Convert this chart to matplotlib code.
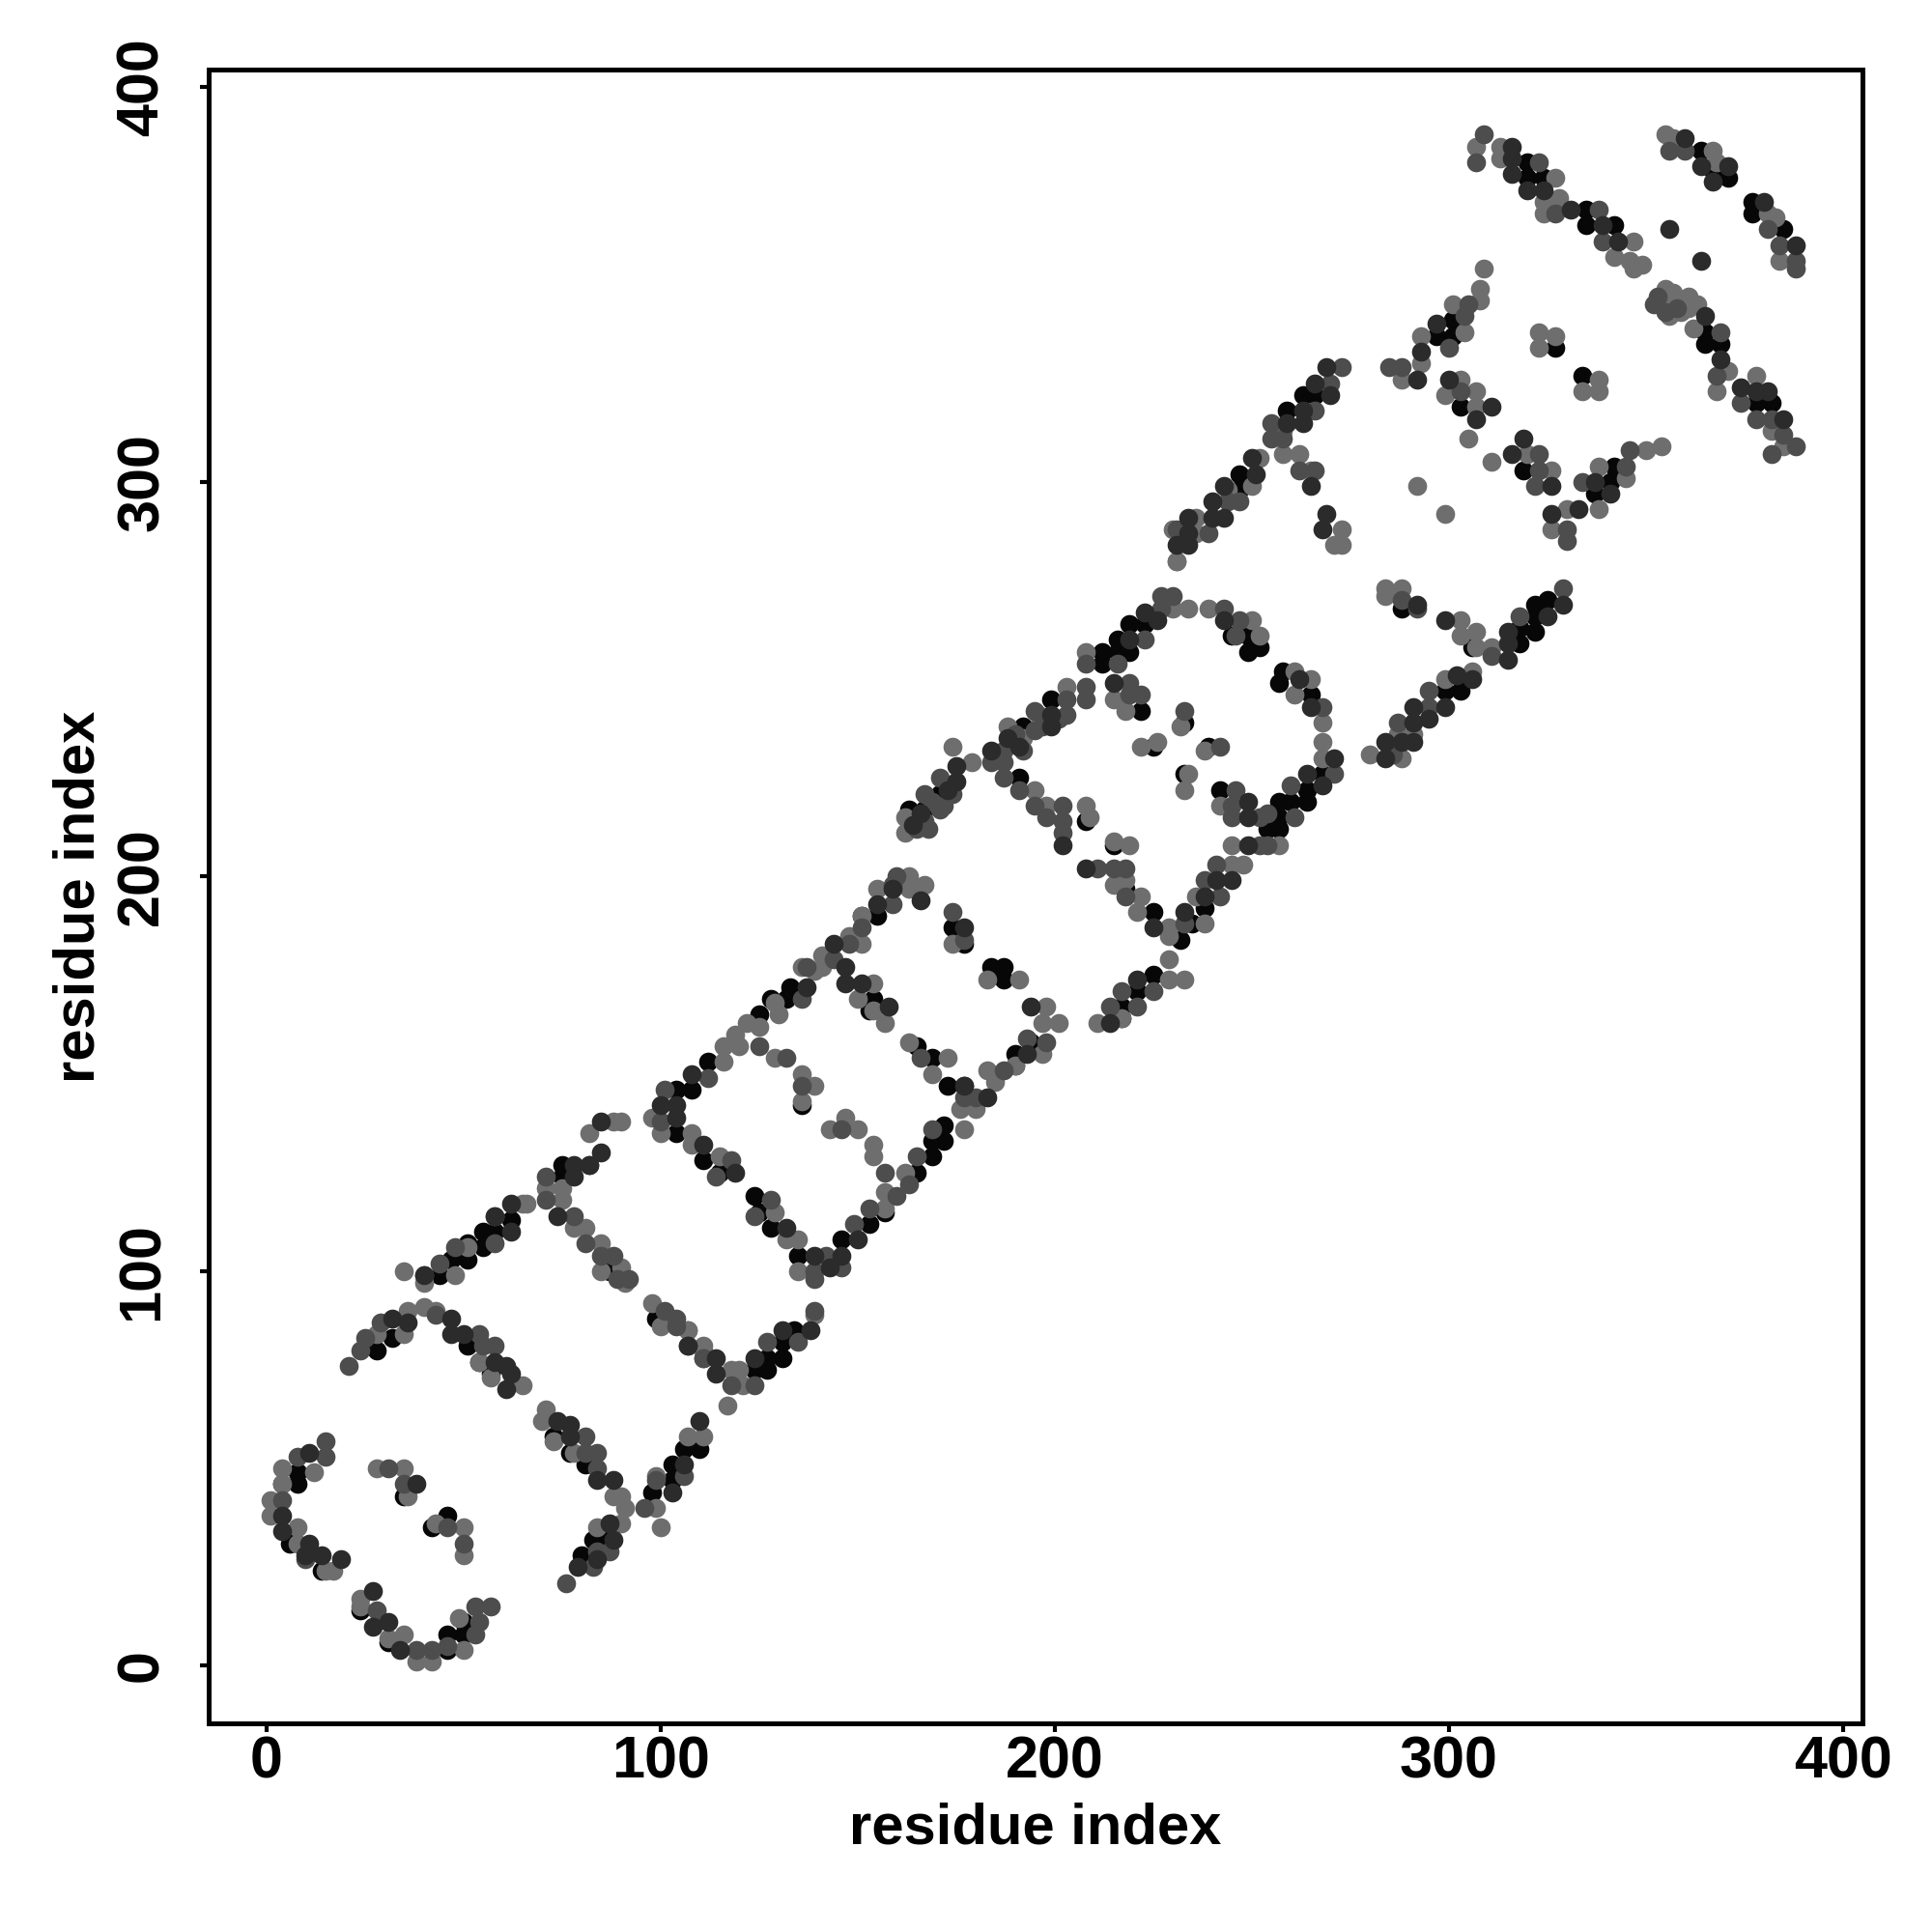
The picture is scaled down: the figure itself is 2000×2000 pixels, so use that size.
import numpy as np
import matplotlib
matplotlib.use('Agg')
import matplotlib.pyplot as plt

plt.rcParams['font.family'] = ['Liberation Sans', 'DejaVu Sans']

########## contacts (residue i, residue j), by grey level ##########
light_contacts = [(1,42),(1,38),(4,50),(4,46),(8,35),(8,31),(12,49),(15,24),(17,24),
    (24,17),(24,15),(31,7),(35,8),(38,1),(42,1),(50,4),(49,12),
    (28,50),(35,50),(36,43),(43,36),(50,35),(50,28),
    (28,84),(35,84),(36,90),(40,91),(43,90),(57,73),(65,71),(54,77),
    (35,100),(40,97),(40,99),(48,99),(51,106),(58,114),(65,117),(66,117),
    (71,121),(75,118),(75,121),(78,111),(81,111),(85,107),(85,100),(90,101),(91,97),
    (98,92),(100,86),(107,85),(111,80),
    (71,65),(70,62),(73,57),(78,54),(88,43),(90,43),(91,40),(90,36),(84,35),(99,40),(100,35),(99,48),(107,58),(111,58),(82,135),
    (117,66),(121,71),(118,75),(111,81),(107,85),(120,75),(139,89),(90,138),(88,138),(98,139),(100,135),(108,135),(108,132),(115,129),
    (116,153),(116,157),(120,157),(119,160),(122,163),(125,162),(129,168),(130,165),(136,177),(139,176),(141,177),(141,180),(148,185),(151,183),(151,190),(155,197),
    (163,200),(163,197),(167,198),
    (154,173),(150,169),(154,166),(157,163),(174,183),(183,174),(191,174),(198,167),(197,163),(201,163),(197,155),(190,152),(183,151),(185,148),(180,141),(176,141),(177,136),(162,125),(157,120),(157,116),(135,100),(135,108),(132,108),(129,115),(129,154),(136,150),(139,147),(136,143),(147,139),(143,136),(150,136),(154,132),(154,129),(163,158),(173,154),(169,150),
    (162,211),(162,215),(174,233),(179,229),(188,238),(196,241),(203,248),(208,257),(215,245),(218,242),(230,268),(234,268),(231,280),(239,268),(250,265),(252,261),(261,252),(265,250),(261,246),(268,239),(268,234),(268,230),(242,218),(245,208),(257,208),(245,203),(248,203),(236,195),(238,188),(229,187),(229,185),(221,191),(222,195),(218,199),(215,198),(215,209),(219,208),(208,218),(209,215),(198,218),(195,222),(232,238),(222,233),(226,234),(238,232),(234,226),(233,222),(229,179),(233,174),(229,174),(217,164),(211,163),
    (192,235),(197,240),
    (307,385),(313,385),(313,382),(327,377),(328,372),(324,371),(324,368),(347,361),(342,357),(346,356),(349,355),(347,354),(355,388),(357,387),(367,384),(368,381),(381,368),(383,367),(384,356),(355,349),(357,348),(361,347),(356,342),(361,344),(362,339),(371,328),(368,323),(378,327),(382,313),(385,309),(323,338),(327,337),(323,334),(338,326),(334,323),(338,323),(292,299),(299,292),(309,354),(308,349),(308,346),(301,345),(304,338),(293,337),(293,330),(288,326),(299,322),(303,326),(307,323),(307,319),(305,311),(320,307),(311,305),(326,303),(330,293),(338,293),(326,288),(338,304),(345,301),(350,308),(354,309),(273,288),(273,284),(265,303),
    (354,345),(359,343),(363,345),(358,346),
    (284,273),(288,273),(284,271),(303,265),(303,261),(307,262),(307,258),(311,258),
    (306,252),(299,250),(291,236),(287,236),(288,230),(280,231),
    (252,306),(258,313),(258,307),(262,307),(244,298),(250,299),(236,291),(236,287),(230,288),(231,280),(271,284)]

mid_contacts = [(15,57),(15,53),(8,53),(4,42),(10,27),
    (28,14),(38,4),(42,4),(46,5),(53,8),(54,11),(53,15),(57,15),(35,46),(31,50),(46,35),(50,31),
    (21,76),(25,83),(24,80),(29,87),(43,89),(54,84),(55,81),(58,81),(44,102),(48,106),(58,107),(71,124),(71,118),(82,127),
    (78,114),(81,107),(85,104),(88,104),(89,98),(92,98),(101,90),(104,88),(104,86),(107,81),(111,78),
    (81,58),(81,54),(84,54),(84,50),(84,29),(87,29),(83,25),(76,21),(96,40),(99,47),(106,48),
    (118,71),(124,71),(111,78),(127,82),(135,82),(139,90),(101,146),(100,138),(118,128),(114,124),(112,149),(125,157),(136,169),(137,177),(144,179),(148,183),(151,187),(159,193),(160,200),(159,198),
    (174,191),(177,184),(193,159),(198,158),(187,151),(180,144),(177,144),(169,136),(165,129),(163,122),(160,119),(153,116),(149,112),(142,104),(146,101),(139,100),(139,98),(128,118),(124,114),(132,154),(136,147),(146,136),(157,125),(166,154),
    (167,214),(171,217),(167,221),(174,221),(171,225),(184,229),(187,229),(187,232),(195,242),(195,237),(203,245),(203,241),(208,254),(208,248),(208,245),(216,254),(223,260),(227,271),(227,268),(230,271),(219,249),(219,246),(222,246),(243,268),(247,265),(246,261),(268,243),(271,226),(260,223),(261,215),(254,216),(252,215),(246,222),(245,218),(245,215),(252,208),(254,208),(241,203),(238,199),(242,195),(233,188),(218,195),(218,202),(215,202),(211,202),(202,218),(191,222),(187,225),(195,218),(202,214),(202,211),(198,215),(233,242),(242,233),(225,171),(217,171),(221,167),(214,167),
    (165,212),(168,212),(172,218),(169,219),(190,236),(197,238),(201,240),(192,232),
    (309,388),(307,381),(323,381),(327,368),(338,369),(339,361),(356,384),(360,384),(381,364),(384,360),(388,356),(388,354),(353,347),(369,338),(368,327),(374,320),(378,316),(382,316),(385,312),(382,307),(388,309),(305,345),(304,342),(300,334),(285,329),(288,329),(303,323),(323,307),(323,303),(322,299),(330,288),(330,285),(334,300),(345,304),(346,308),(273,329),
    (352,345),(355,343),(358,344),
    (288,270),(292,268),(311,256),(318,266),(329,273),
    (295,247),(295,243),(287,239),(286,231),
    (270,325),(266,318),(255,315),(255,311),(258,311),(262,303),(266,303),(247,295),(244,295),(239,287),(231,288)]

dark_contacts = [(11,54),(4,38),(4,34),(11,31),(10,28),(14,28),(19,27),
    (27,19),(27,10),(31,11),(34,4),(38,46),
    (32,88),(36,87),(47,88),(47,84),(50,84),(58,77),(61,76),(62,74),(61,70),
    (40,99),(62,110),(62,117),(58,114),(74,114),(78,124),(78,127),
    (74,62),(77,61),(77,58),(84,47),(88,47),(87,36),(88,32),(79,25),(84,27),(103,44),(106,51),(110,62),(85,130),(85,138),(82,127),
    (114,74),(114,78),(107,81),(124,78),(131,85),(138,85),(100,142),(104,142),(104,139),(111,132),(119,125),(108,150),(137,172),(144,183),(155,193),(159,197),(166,194),(147,177),(147,173),(151,173),(158,167),(177,187),(194,167),(193,155),(183,144),(177,147),(150,108),(146,104),(143,101),(139,104),(132,111),
    (164,213),(175,224),(175,228),(184,232),(188,235),(191,233),(199,238),(199,241),(215,249),(219,260),(223,267),(226,265),(243,265),(262,250),(265,243),(271,230),(264,226),(268,223),(249,219),(249,215),(249,208),(245,199),(241,199),(238,195),(233,191),(225,187),(208,202),(202,208),(221,174),(214,163),
    (166,216),(173,222),
    (316,385),(316,382),(316,378),(320,374),(324,374),(331,369),(339,365),(343,361),(360,387),(364,380),(371,380),(367,376),(380,371),(388,360),(356,364),(364,356),(365,342),(369,331),(374,324),(378,323),(381,323),(385,316),(297,340),(293,333),(292,326),(300,326),(311,319),(307,316),(319,311),(316,307),(326,299),(326,292),(333,293),(337,300),(341,297),
    (292,269),(299,265),(315,255),(315,259),(315,262),(325,266),(329,269),
    (306,250),(302,251),(299,243),(295,240),(291,243),(291,239),(291,234),(288,234),(284,234),(284,230),
    (269,329),(266,325),(270,322),(263,318),(259,315),(263,315),(265,299),(269,292),(268,288),(250,306),(251,302),(243,299),(240,295),(240,291),(243,291),(234,291),(234,287),(231,284),(234,284)]

black_contacts = [(8,49),(8,46),(4,46),(6,31),(14,24),
    (24,14),(31,6),(46,8),(46,4),(50,11),(50,8),
    (35,43),(46,38),(42,35),
    (28,80),(32,83),(51,81),(54,77),(57,74),
    (44,99),(47,103),(51,103),(51,107),(55,110),(55,106),(58,110),(62,113),
    (75,124),(75,127),(87,100),
    (99,88),(73,58),(77,54),(81,51),(87,32),(83,32),(80,28),(98,44),(103,51),(103,47),(106,55),(110,55),
    (124,75),(127,75),(127,78),(131,78),(131,82),(134,85),(104,146),(108,146),(104,135),(111,128),(115,125),(112,153),(125,165),(128,169),(133,172),(132,169),(155,190),(151,190),(154,169),(153,166),(174,187),(177,183),(184,177),(187,177),(187,174),(194,158),(190,155),(190,152),(172,137),(172,133),(169,133),(169,129),(165,125),(153,112),(146,108),(135,104),(128,111),(124,119),(125,115),(136,142),(165,157),(169,154),(173,147),(177,147),(157,115),
    (163,217),(167,217),(171,221),(192,238),(199,245),(212,257),(212,254),(216,257),(216,260),(219,257),(219,264),(223,264),(222,242),(245,261),(249,261),(249,257),(252,258),(258,252),(257,249),(265,246),(268,226),(264,222),(264,219),(260,219),(257,219),(257,215),(257,212),(254,212),(242,222),(238,192),(235,188),(232,184),(225,191),(218,197),(215,208),(208,214),(191,225),(233,239),(225,233),(239,233),(233,226),(225,175),(221,171),(217,167),(217,164),
    (320,381),(320,377),(324,377),(335,369),(335,365),(342,365),(364,384),(367,379),(371,377),(377,371),(377,368),(385,364),(365,338),(365,335),(369,335),(378,320),(382,320),(301,341),(301,337),(297,337),(303,319),(319,303),(327,334),(334,327),(337,297),(341,300),(342,304),
    (288,268),(306,258),(318,263),(318,259),(322,269),(322,266),(322,262),(325,270),
    (303,247),(299,247),(263,322),(266,322),(259,318),(247,302),(247,298)]

ticks = [0, 100, 200, 300, 400]

fig = plt.figure(figsize=(10, 10), dpi=200)
ax = fig.add_axes([216/2000, 1 - 1784/2000, (1928-216)/2000, (1784-72)/2000])

# black goes down first, the lighter ones sit over it in the original
for pts, col in [(black_contacts, '#070707'), (light_contacts, '#6e6e6e'),
                 (mid_contacts, '#4d4d4d'), (dark_contacts, '#2b2b2b')]:
    pts = np.array(pts)
    ax.scatter(pts[:, 0], pts[:, 1], s=50, c=col, linewidths=0)

ax.set_xlim(-14.6, 405.0)
ax.set_ylim(-14.6, 404.5)
ax.set_xticks(ticks)
ax.set_yticks(ticks)
ax.tick_params(length=3.2, width=1.5, labelsize=22)
ax.tick_params(axis='x', pad=1.2)
ax.tick_params(axis='y', pad=11)
for lab in ax.get_xticklabels() + ax.get_yticklabels():
    lab.set_fontweight('bold')
for lab in ax.get_yticklabels():
    lab.set_rotation(90)
    lab.set_va('center')
for sp in ax.spines.values():
    sp.set_linewidth(1.8)
ax.set_xlabel('residue index', fontsize=21.5, fontweight='bold', labelpad=4.5)
ax.set_ylabel('residue index', fontsize=21.5, fontweight='bold', labelpad=3.6)

fig.savefig('out.png', dpi=200)
